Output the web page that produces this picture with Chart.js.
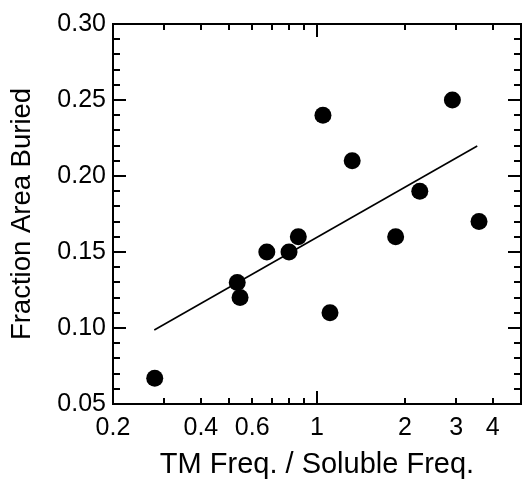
<!DOCTYPE html>
<html>
<head>
<meta charset="utf-8">
<style>
  html, body { margin: 0; padding: 0; background: #fff; overflow: hidden; }
  canvas { display: block; }
</style>
<script src="https://cdn.jsdelivr.net/npm/chart.js@4/dist/chart.umd.min.js"></script>
</head>
<body>
<canvas id="chart" width="522" height="482"></canvas>
<script>
// measured points
const ratio = [0.278, 0.533, 0.545, 0.673, 0.802, 0.863, 1.048, 1.108, 1.32, 1.86, 2.25, 2.91, 3.59];
const buried = [0.067, 0.13, 0.12, 0.15, 0.15, 0.16, 0.24, 0.11, 0.21, 0.16, 0.19, 0.25, 0.17];

// fitted line ends
const fitX = [0.277, 3.54];
const fitY = [0.0987, 0.2197];

const xLabels = [0.2, 0.4, 0.6, 1, 2, 3, 4];
const xMajor = [1];
const xMinor = [0.3, 0.4, 0.5, 0.6, 0.7, 0.8, 0.9, 2, 3, 4];
const yLabels = [0.05, 0.10, 0.15, 0.20, 0.25, 0.30];
const yMinor = [0.06, 0.07, 0.08, 0.09, 0.11, 0.12, 0.13, 0.14, 0.16, 0.17, 0.18, 0.19,
  0.21, 0.22, 0.23, 0.24, 0.26, 0.27, 0.28, 0.29];

const FONT = "'Liberation Sans', Arial, sans-serif";

// inward ticks on all four sides + the box
const frame = {
  id: "frame",
  afterDatasetsDraw(chart) {
    const { ctx, chartArea: a, scales } = chart;
    ctx.save();
    ctx.strokeStyle = "#000";
    ctx.lineWidth = 2;
    ctx.beginPath();
    const xt = (vals, len) => vals.forEach(v => {
      const px = Math.round(scales.x.getPixelForValue(v));
      ctx.moveTo(px, a.bottom); ctx.lineTo(px, a.bottom - len);
      ctx.moveTo(px, a.top); ctx.lineTo(px, a.top + len);
    });
    const yt = (vals, len) => vals.forEach(v => {
      const py = Math.round(scales.y.getPixelForValue(v));
      ctx.moveTo(a.left, py); ctx.lineTo(a.left + len, py);
      ctx.moveTo(a.right, py); ctx.lineTo(a.right - len, py);
    });
    xt(xMajor, 13);
    xt(xMinor, 6);
    yt(yLabels, 13);
    yt(yMinor, 7);
    ctx.stroke();
    ctx.strokeRect(a.left, a.top, a.right - a.left, a.bottom - a.top);
    ctx.restore();
  }
};

new Chart(document.getElementById("chart"), {
  type: "scatter",
  data: {
    datasets: [
      {
        data: ratio.map((x, i) => ({ x: x, y: buried[i] })),
        pointRadius: 8.5,
        pointHoverRadius: 8.5,
        backgroundColor: "#000",
        borderWidth: 0,
        order: 1,
      },
      {
        data: fitX.map((x, i) => ({ x: x, y: fitY[i] })),
        showLine: true,
        pointRadius: 0,
        borderColor: "#000",
        borderWidth: 1.6,
        order: 2,
      },
    ],
  },
  options: {
    responsive: false,
    animation: false,
    events: [],
    layout: { autoPadding: false, padding: { top: 24, right: 1, left: 0, bottom: 0 } },
    scales: {
      x: {
        type: "logarithmic",
        min: 0.2,
        max: 5,
        afterBuildTicks: s => { s.ticks = xLabels.map(v => ({ value: v })); },
        afterFit: s => { s.height = 78; s.paddingLeft = 0; s.paddingRight = 0; },
        grid: { display: false, drawTicks: false },
        border: { display: false },
        ticks: {
          color: "#000",
          font: { family: FONT, size: 25 },
          padding: 9,
          autoSkip: false,
          maxRotation: 0,
          callback: v => String(v),
        },
        title: {
          display: true,
          text: "TM Freq. / Soluble Freq.",
          color: "#000",
          font: { family: FONT, size: 29 },
          padding: { top: 11, bottom: 0 },
        },
      },
      y: {
        min: 0.05,
        max: 0.30,
        afterBuildTicks: s => { s.ticks = yLabels.map(v => ({ value: v })); },
        afterFit: s => { s.width = 113; s.paddingTop = 0; s.paddingBottom = 0; },
        grid: { display: false, drawTicks: false },
        border: { display: false },
        ticks: {
          color: "#000",
          font: { family: FONT, size: 25 },
          padding: 7,
          callback: v => v.toFixed(2),
        },
        title: {
          display: true,
          text: "Fraction Area Buried",
          color: "#000",
          font: { family: FONT, size: 27.5 },
          padding: { top: 6, bottom: 0 },
        },
      },
    },
    plugins: {
      legend: { display: false },
      tooltip: { enabled: false },
    },
  },
  plugins: [frame],
});
</script>
</body>
</html>
